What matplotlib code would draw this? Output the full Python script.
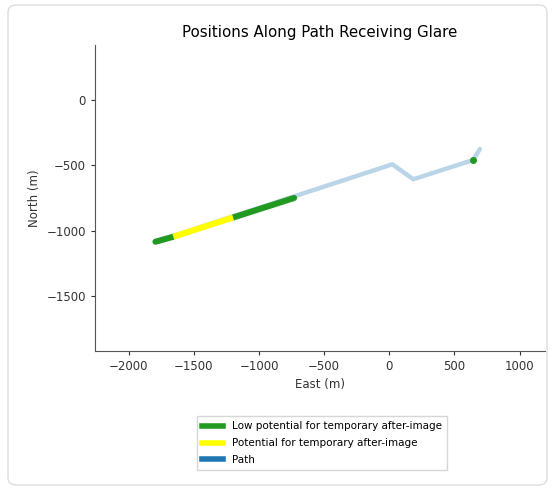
import matplotlib
matplotlib.use("Agg")
import matplotlib.pyplot as plt
from matplotlib.lines import Line2D
from matplotlib.patches import FancyBboxPatch

# path vertices (m)
path_east = [-1795, 23, 184, 644, 695]
path_north = [-1082, -491, -605, -458, -374]

# glare stretches along the first leg of the path
low_segments = [([-1795, -1658], [-1082, -1044]), ([-1199, -731], [-897, -748])]
mid_segments = [([-1658, -1199], [-1044, -897])]
low_points_east = [644]
low_points_north = [-458]

fig = plt.figure(figsize=(5.52, 4.88), dpi=100)

# card frame round the figure
frame = FancyBboxPatch((8 / 552, 3 / 488), 539 / 552, 480 / 488,
                       boxstyle="round,pad=0,rounding_size=0.015",
                       transform=fig.transFigure, facecolor="white",
                       edgecolor="#dddddd", linewidth=1.0, zorder=-10)
fig.patches.append(frame)

ax = fig.add_axes([95 / 552, 1 - 350.7 / 488, 450 / 552, 305.7 / 488])
ax.set_facecolor("none")

ax.plot(path_east, path_north, color="#1f77b4", alpha=0.3, lw=3.2,
        solid_capstyle="round", zorder=1)
for xs, ys in low_segments:
    ax.plot(xs, ys, color="#229a22", lw=4.4, solid_capstyle="round", zorder=2)
for xs, ys in mid_segments:
    ax.plot(xs, ys, color="yellow", lw=4.4, solid_capstyle="butt", zorder=3)
ax.plot(low_points_east, low_points_north, "o", color="#229a22", ms=4, zorder=2)

ax.set_xlim(-2259, 1195)
ax.set_ylim(-1914, 420)
ax.set_xticks([-2000, -1500, -1000, -500, 0, 500, 1000])
ax.set_yticks([0, -500, -1000, -1500])
ax.tick_params(labelsize=8.5, colors="#333333", length=3)
for s in ["top", "right"]:
    ax.spines[s].set_visible(False)
for s in ["left", "bottom"]:
    ax.spines[s].set_color("#555555")

ax.set_xlabel("East (m)", fontsize=8.5, color="#333333")
ax.set_ylabel("North (m)", fontsize=8.5, color="#333333")
ax.set_title("Positions Along Path Receiving Glare", fontsize=10.8, pad=6)

handles = [Line2D([], [], color="#229a22", lw=4),
           Line2D([], [], color="yellow", lw=4),
           Line2D([], [], color="#1f77b4", lw=4)]
labels = ["Low potential for temporary after-image",
          "Potential for temporary after-image",
          "Path"]
fig.legend(handles, labels, loc="upper center",
           bbox_to_anchor=(322 / 552, 1 - 411 / 488),
           fontsize=7.5, frameon=True, fancybox=False, edgecolor="#cccccc",
           handlelength=2.0, labelspacing=0.65, borderpad=0.5)

fig.savefig("out.png", dpi=100)
